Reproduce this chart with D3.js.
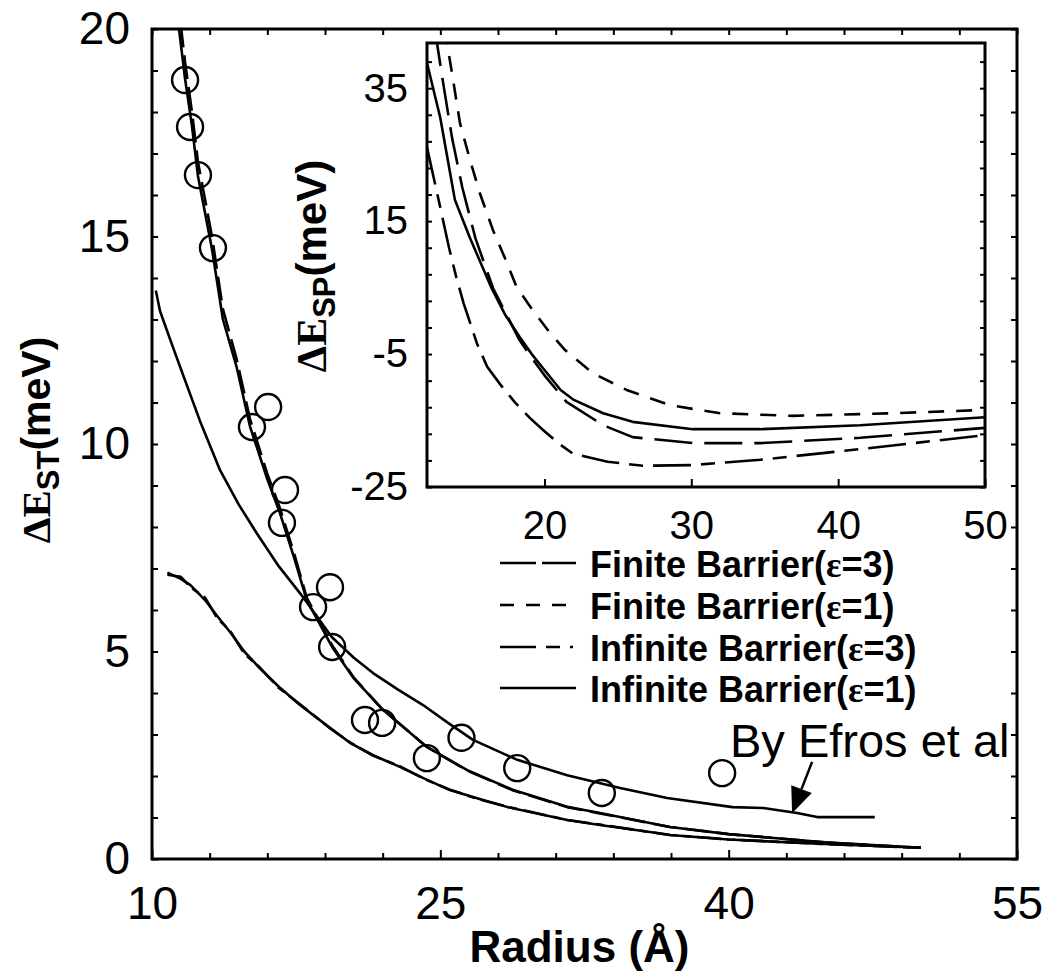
<!DOCTYPE html>
<html><head><meta charset="utf-8">
<script src="https://cdn.jsdelivr.net/npm/d3@7"></script>
<style>
body{margin:0;background:#fff}
svg{display:block}
text{font-family:"Liberation Sans",Arial,Helvetica,sans-serif;fill:#000}
</style>
</head><body>
<svg id="c" width="1047" height="974"></svg>
<script>
// ---------- main panel data ----------
const xTicksMain = [10, 25, 40, 55];
const yTicksMain = [0, 5, 10, 15, 20];
const radiusExp = [11.72, 11.98, 12.39, 13.17, 15.2, 16.04, 16.76, 16.92, 18.38, 19.26, 19.37, 21.08, 21.97, 24.3, 26.1, 29.0, 33.4, 39.66];
const deltaExp  = [18.77, 17.64, 16.48, 14.72, 10.41, 10.89, 8.1, 8.89, 6.07, 6.55, 5.11, 3.35, 3.28, 2.43, 2.92, 2.19, 1.59, 2.07];

const steepX = [11.3, 11.72, 12.08, 12.39, 13.12, 13.69, 14.4, 15.1, 16.0, 16.66, 17.4, 18.05, 19.37, 20.5, 22.0, 24.3, 26.4, 28.8, 31.6, 33.3, 36.95, 40, 45, 50];
const steepSolid = [20.4, 18.8, 17.66, 16.46, 14.7, 13.0, 11.86, 10.42, 9.15, 8.33, 7.25, 6.24, 5.11, 4.35, 3.6, 2.7, 2.14, 1.66, 1.26, 1.11, 0.77, 0.6, 0.4, 0.27];
const steepDash  = [20.9, 19.2, 18.0, 16.8, 15.0, 13.25, 12.05, 10.6, 9.28, 8.45, 7.35, 6.3, 5.15, 4.37, 3.6, 2.7, 2.13, 1.65, 1.25, 1.1, 0.77, 0.6, 0.4, 0.27];

const efrosX = [10.2, 10.42, 11.0, 11.46, 12.5, 13.54, 14.5, 15.45, 16.6, 17.86, 19.35, 20.5, 21.5, 22.8, 24.1, 25.4, 26.7, 29.0, 31.6, 34.35, 36.8, 40.2, 41.8, 43.56, 44.6, 47.6];
const efrosY = [13.7, 13.2, 12.45, 11.86, 10.55, 9.37, 8.55, 7.85, 7.05, 6.31, 5.35, 4.85, 4.48, 4.08, 3.71, 3.28, 2.87, 2.39, 2.02, 1.71, 1.47, 1.25, 1.23, 1.11, 1.01, 1.01];

const lowX = [10.8, 11.5, 12.0, 12.76, 13.4, 14.06, 14.8, 15.6, 16.6, 17.7, 19.26, 20.3, 21.5, 22.9, 24.2, 25.5, 27.0, 28.5, 31.6, 33.3, 35.9, 36.95, 40, 45, 50];
const lowSolid = [6.9, 6.75, 6.6, 6.24, 5.85, 5.47, 5.0, 4.6, 4.15, 3.71, 3.16, 2.8, 2.5, 2.22, 1.93, 1.66, 1.45, 1.25, 0.94, 0.82, 0.65, 0.58, 0.47, 0.36, 0.27];
const lowDashDot = [6.85, 6.8, 6.55, 6.3, 5.8, 5.5, 4.95, 4.62, 4.12, 3.73, 3.15, 2.81, 2.49, 2.23, 1.92, 1.67, 1.44, 1.26, 0.94, 0.83, 0.65, 0.58, 0.47, 0.36, 0.27];

const arrowTail = [44.34, 2.34];
const arrowTip  = [43.3, 1.1];
const efrosLabel = "By Efros et al";
const efrosLabelAt = [40.07, 2.46];

// ---------- inset data ----------
const insetXTicks = [20, 30, 40, 50];
const insetYLabels = [-25, -5, 15, 35];
const finEps1X = [13.2, 13.36, 13.7, 14.25, 14.93, 15.6, 16.5, 17.45, 18.1, 19.2, 20.3, 21.4, 23.3, 25.6, 28.55, 31.96, 36.9, 43.7, 50];
const finEps1Y = [44.0, 41.8, 37.3, 29.7, 24.2, 19.2, 13.6, 8.7, 5.1, 1.6, -1.6, -4.4, -7.9, -10.4, -12.7, -13.9, -14.3, -13.9, -13.4];
const infEps1X = [12.0, 12.9, 13.9, 14.9, 16.4, 17.3, 18.3, 19.2, 20.0, 21.1, 22.0, 24.0, 26.0, 30.1, 34.7, 41.5, 50];
const infEps1Y = [38.8, 30.6, 18.2, 12.6, 4.9, 1.0, -2.4, -5.2, -7.4, -10.4, -11.9, -13.9, -15.2, -16.3, -16.3, -15.7, -14.5];
const finEps3X = [12.55, 12.7, 13.1, 13.7, 14.4, 15.3, 16.5, 17.4, 18.3, 19.2, 20.0, 21.5, 24.0, 26.0, 30.1, 34.7, 41.5, 50];
const finEps3Y = [44.0, 41.5, 35.8, 27.6, 20.1, 12.4, 4.9, 1.0, -2.9, -5.8, -8.2, -12.2, -15.7, -17.5, -18.4, -18.4, -17.6, -16.1];
const infEps3X = [12.0, 12.9, 13.5, 14.0, 14.5, 15.4, 16.1, 17.0, 18.0, 19.0, 20.0, 21.06, 21.95, 24.3, 26.7, 30.1, 34.7, 41.5, 50];
const infEps3Y = [26.1, 17.1, 11.0, 6.5, 2.6, -3.4, -6.9, -9.6, -12.3, -14.6, -16.6, -18.6, -20.0, -21.2, -21.8, -21.7, -20.9, -19.3, -17.2];

const legendLabels = ["Finite Barrier(", "Finite Barrier(", "Infinite Barrier(", "Infinite Barrier("];
const legendEps = ["3", "1", "3", "1"];
const legendDash = ["36,6", "14,12", "36,10,14,10,3,10", null];

// ---------- layout ----------
const svg = d3.select("#c");
const M = {l:152, r:1017, t:29, b:859};
const I = {l:427, r:985, t:43, b:487};
const x = d3.scaleLinear().domain([10,55]).range([M.l, M.r]);
const y = d3.scaleLinear().domain([0,20]).range([M.b, M.t]);
const xi = d3.scaleLinear().domain([12,50]).range([I.l, I.r]);
const yi = d3.scaleLinear().domain([-25,41.8]).range([I.b, I.t]);

const defs = svg.append("defs");
defs.append("clipPath").attr("id","clipM").append("rect").attr("x",M.l).attr("y",M.t).attr("width",M.r-M.l).attr("height",M.b-M.t);
defs.append("clipPath").attr("id","clipI").append("rect").attr("x",I.l).attr("y",I.t).attr("width",I.r-I.l).attr("height",I.b-I.t);

function styleAxis(g){
  g.select(".domain").remove();
  g.selectAll(".tick line").attr("stroke","#000").attr("stroke-width",2);
  g.selectAll(".tick text").style("font-family","'Liberation Sans',Arial,sans-serif").attr("fill","#000");
}

// main axes (ticks inward)
const xMinor = d3.range(10, 55.1, 3);
svg.append("g").attr("transform",`translate(0,${M.b})`)
  .call(d3.axisBottom(x).tickValues(xMinor).tickSizeInner(-6).tickSizeOuter(0).tickPadding(27)
    .tickFormat(d => xTicksMain.includes(d) ? d : ""))
  .call(styleAxis).call(g=>g.selectAll(".tick text").style("font-size","46px"))
  .call(g=>g.selectAll(".tick line").attr("y2", d => xTicksMain.includes(d) ? -9 : -6));
svg.append("g").attr("transform",`translate(0,${M.t})`)
  .call(d3.axisTop(x).tickValues(xMinor).tickSizeInner(-6).tickSizeOuter(0).tickFormat(""))
  .call(styleAxis);
const yMinor = d3.range(0, 20.1, 1);
svg.append("g").attr("transform",`translate(${M.l},0)`)
  .call(d3.axisLeft(y).tickValues(yMinor).tickSizeInner(-6).tickSizeOuter(0).tickPadding(22)
    .tickFormat(d => yTicksMain.includes(d) ? d : ""))
  .call(styleAxis).call(g=>g.selectAll(".tick text").style("font-size","46px"));
svg.append("g").attr("transform",`translate(${M.r},0)`)
  .call(d3.axisRight(y).tickValues(yMinor).tickSizeInner(-6).tickSizeOuter(0).tickFormat(""))
  .call(styleAxis);
svg.append("rect").attr("x",M.l).attr("y",M.t).attr("width",M.r-M.l).attr("height",M.b-M.t)
  .attr("fill","none").attr("stroke","#000").attr("stroke-width",3);

// main curves
const lineM = d3.line().x(d=>x(d[0])).y(d=>y(d[1]));
const gM = svg.append("g").attr("clip-path","url(#clipM)");
function drawM(xs, ys, dash){
  gM.append("path").attr("d", lineM(d3.zip(xs, ys))).attr("fill","none").attr("stroke","#000")
    .attr("stroke-width",2.6).attr("stroke-linejoin","round").attr("stroke-dasharray", dash);
}
drawM(steepX, steepSolid, null);
drawM(steepX, steepDash, "24,8");
drawM(efrosX, efrosY, null);
drawM(lowX, lowSolid, null);
drawM(lowX, lowDashDot, "24,6,8,6");

gM.selectAll("circle.exp").data(d3.zip(radiusExp, deltaExp)).join("circle")
  .attr("cx", d=>x(d[0])).attr("cy", d=>y(d[1])).attr("r",13)
  .attr("fill","none").attr("stroke","#000").attr("stroke-width",2.4);

// Efros annotation
svg.append("text").attr("x", x(efrosLabelAt[0])).attr("y", y(efrosLabelAt[1]))
  .style("font-size","47px").text(efrosLabel);
{
  const tx = x(arrowTail[0]), ty = y(arrowTail[1]), hx = x(arrowTip[0]), hy = y(arrowTip[1]);
  const ang = Math.atan2(hy-ty, hx-tx), L = 26, W = 11;
  const bx = hx - L*Math.cos(ang), by = hy - L*Math.sin(ang);
  svg.append("line").attr("x1",tx).attr("y1",ty).attr("x2",bx).attr("y2",by).attr("stroke","#000").attr("stroke-width",2.5);
  const px = -Math.sin(ang), py = Math.cos(ang);
  svg.append("path").attr("d",`M${hx},${hy}L${bx+W*px},${by+W*py}L${bx-W*px},${by-W*py}Z`).attr("fill","#000");
}

// main axis titles
svg.append("text").attr("x",(M.l+M.r)/2 - 5).attr("y",962).attr("text-anchor","middle")
  .style("font-size","44px").style("font-weight","bold").text("Radius (Å)");
{
  const t = svg.append("text").attr("transform","translate(50,440) rotate(-90)").attr("text-anchor","middle")
    .style("font-size","41px").style("font-weight","bold");
  t.append("tspan").style("font-family","'Liberation Serif',serif").text("ΔE");
  t.append("tspan").attr("dy","0.3em").style("font-size","31px").text("ST");
  t.append("tspan").attr("dy","-0.225em").text("(meV)");
}

// ---------- inset ----------
svg.append("rect").attr("x",I.l).attr("y",I.t).attr("width",I.r-I.l).attr("height",I.b-I.t).attr("fill","#fff");
const yiTicks = d3.range(-25, 41.8, 4);
svg.append("g").attr("transform",`translate(${I.l},0)`)
  .call(d3.axisLeft(yi).tickValues(yiTicks).tickSizeInner(-5).tickSizeOuter(0).tickPadding(19)
    .tickFormat(d => insetYLabels.includes(d) ? d : ""))
  .call(styleAxis).call(g=>g.selectAll(".tick text").style("font-size","40px"));
svg.append("g").attr("transform",`translate(${I.r},0)`)
  .call(d3.axisRight(yi).tickValues(yiTicks).tickSizeInner(-5).tickSizeOuter(0).tickFormat(""))
  .call(styleAxis);
svg.append("g").attr("transform",`translate(0,${I.b})`)
  .call(d3.axisBottom(xi).tickValues(insetXTicks).tickSizeInner(-8).tickSizeOuter(0).tickPadding(24))
  .call(styleAxis).call(g=>g.selectAll(".tick text").style("font-size","40px"));
svg.append("rect").attr("x",I.l).attr("y",I.t).attr("width",I.r-I.l).attr("height",I.b-I.t)
  .attr("fill","none").attr("stroke","#000").attr("stroke-width",3);

const lineI = d3.line().x(d=>xi(d[0])).y(d=>yi(d[1]));
const gI = svg.append("g").attr("clip-path","url(#clipI)");
function drawI(xs, ys, dash){
  gI.append("path").attr("d", lineI(d3.zip(xs, ys))).attr("fill","none").attr("stroke","#000")
    .attr("stroke-width",2.6).attr("stroke-linejoin","round").attr("stroke-dasharray", dash);
}
drawI(finEps3X, finEps3Y, "38,12");
drawI(finEps1X, finEps1Y, "16,12");
drawI(infEps3X, infEps3Y, "38,10,14,10");
drawI(infEps1X, infEps1Y, null);

{
  const t = svg.append("text").attr("transform","translate(326,266) rotate(-90)").attr("text-anchor","middle")
    .style("font-size","42px").style("font-weight","bold");
  t.append("tspan").style("font-family","'Liberation Serif',serif").text("ΔE");
  t.append("tspan").attr("dy","0.3em").style("font-size","31px").text("SP");
  t.append("tspan").attr("dy","-0.225em").text("(meV)");
}

// ---------- legend ----------
const legY = [563, 605, 647, 688];
legendLabels.forEach((lab, i) => {
  svg.append("line").attr("x1",500).attr("x2",576).attr("y1",legY[i]).attr("y2",legY[i])
    .attr("stroke","#000").attr("stroke-width",2.6).attr("stroke-dasharray", legendDash[i]);
  const t = svg.append("text").attr("x",590).attr("y",legY[i]+14).style("font-size","36px").style("font-weight","bold");
  t.append("tspan").text(lab);
  t.append("tspan").style("font-family","'Liberation Serif',serif").text("ε");
  t.append("tspan").text("=" + legendEps[i] + ")");
});
</script>
</body></html>
